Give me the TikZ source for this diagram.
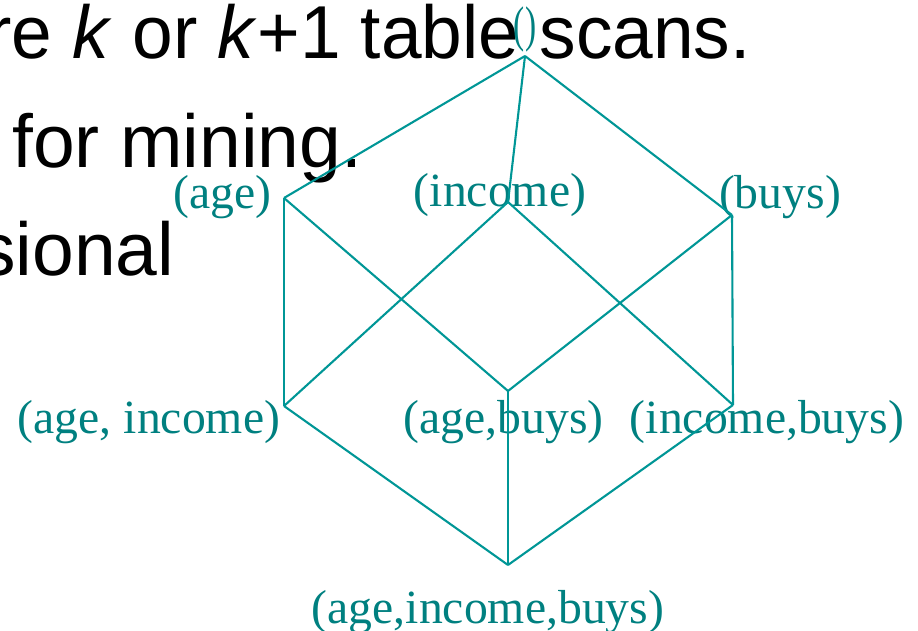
\documentclass[tikz,border=0pt]{standalone}
\usepackage{fontspec}
\usepackage{graphicx}
\setmainfont{Liberation Serif}
\newfontfamily\slidesans{Liberation Sans}
\definecolor{latline}{RGB}{0,150,150}
\definecolor{lattext}{RGB}{0,128,128}
\begin{document}
\begin{tikzpicture}[x=1pt,y=-1pt,
  edge/.style={draw=latline,line width=2.1pt},
  cuboid/.style={text=lattext,font=\fontsize{47.7pt}{50pt}\selectfont,inner sep=0pt,anchor=base},
  slidetext/.style={font=\slidesans\fontsize{75pt}{90pt}\selectfont,inner sep=0pt,anchor=base west}]
\useasboundingbox (0,0) rectangle (918,631);
\begin{scope}
\clip (0,0) rectangle (918,631);
% slide text behind the lattice
\node[slidetext] (line1) at (-12.7,59) {\scalebox{0.974}[1]{re \textit{k} or \textit{k}+1 table scans.}};
\node[slidetext] (line2) at (12,168) {for mining.};
\node[slidetext] (line3) at (-22,275) {sional};

% cuboid lattice vertices
\coordinate (T)   at (525,56);
\coordinate (A)   at (284,198);
\coordinate (I)   at (508,202);
\coordinate (B)   at (732,215);
\coordinate (AI)  at (284,406);
\coordinate (AB)  at (508,391);
\coordinate (IB)  at (733,405);
\coordinate (ABI) at (508,565);

% cuboid labels
\node[cuboid] (nApex)   at (525,42)   {\scalebox{0.7}[1.05]{()}};
\node[cuboid] (nAge)    at (222.5,208) {(age)};
\node[cuboid] (nInc)    at (500,207)  {(income)};
\node[cuboid] (nBuy)    at (780,209)  {(buys)};
\node[cuboid] (nAgeInc) at (149,433)  {(age, income)};
\node[cuboid] (nAgeBuy) at (503.5,433) {(age,buys)};
\node[cuboid] (nIncBuy) at (767,433)  {(income,buys)};
\node[cuboid] (nBase)   at (488,623)  {(age,income,buys)};

% lattice edges
\draw[edge] (T) -- (A);
\draw[edge] (T) -- (I);
\draw[edge] (T) -- (B);
\draw[edge] (A) -- (AI);
\draw[edge] (A) -- (AB);
\draw[edge] (I) -- (AI);
\draw[edge] (I) -- (IB);
\draw[edge] (B) -- (AB);
\draw[edge] (B) -- (IB);
\draw[edge] (AI) -- (ABI);
\draw[edge] (AB) -- (ABI);
\draw[edge] (IB) -- (ABI);
\end{scope}
\end{tikzpicture}
\end{document}
